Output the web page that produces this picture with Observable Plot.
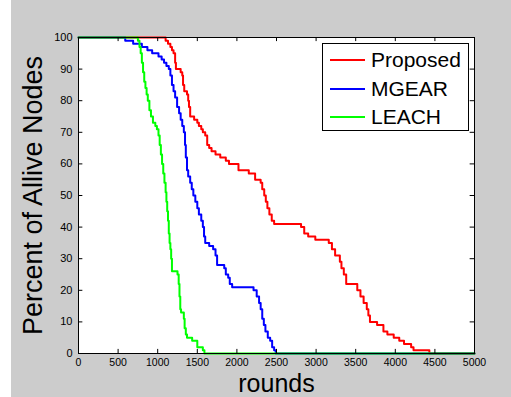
<!DOCTYPE html>
<html>
<head>
<meta charset="utf-8">
<script src="https://cdn.jsdelivr.net/npm/d3@7"></script>
<script src="https://cdn.jsdelivr.net/npm/@observablehq/plot@0.6"></script>
<style>
  html, body { margin: 0; padding: 0; background: #fff; }
  #wrap { position: relative; width: 511px; height: 397px; overflow: hidden;
    background: linear-gradient(to right, #fff 0 11px, #cccccc 11px); font-family: "Liberation Sans", Arial, sans-serif; }
  #wrap svg { position: absolute; left: 0; top: 0; background: transparent; }
  #legend { position: absolute; left: 322px; top: 43px; width: 147px; height: 88px; background: #fff;
    border: 1px solid #000; box-sizing: border-box; }
  .row { position: absolute; left: 7px; height: 24px; display: flex; align-items: center; font-size: 21px; color: #000; }
  .row span.sw { display: inline-block; width: 35px; height: 0; border-top: 2px solid; margin-right: 6px; }
</style>
</head>
<body>
<div id="wrap"></div>
<script>
const seriesNames = ["Proposed", "MGEAR", "LEACH"];
const seriesColors = ["#ff0000", "#0000ff", "#00ff00"];

const propRounds = [0,1100,1130,1160,1180,1200,1220,1230,1290,1310,1320,1335,1370,1385,1395,1410,1460,1500,1520,1550,1570,1600,1625,1650,1680,1730,1790,1860,1900,2020,2150,2230,2300,2320,2345,2365,2385,2410,2440,2470,2810,2850,2900,2990,3160,3200,3240,3300,3320,3350,3380,3520,3560,3600,3640,3660,3680,3770,3850,3900,3980,4050,4110,4200,4230,4430,5000];
const propPct    = [100,99,98,97,96,95,92,90,89,88,85,83,82,80,78,75,74,73,72,71,70,69,66,65,64,63,62,61,60,58,57,55,54,52,50,48,46,44,42,41,40,38,37,36,35,33,31,29,27,25,22,20,18,16,14,12,10,9,7,6,5,4,3,2,1,0,0];

const mgearRounds = [0,590,690,800,870,930,1010,1050,1080,1110,1140,1160,1180,1200,1220,1245,1270,1290,1310,1330,1345,1355,1370,1385,1410,1430,1450,1475,1500,1520,1550,1570,1585,1600,1650,1700,1730,1750,1840,1860,1890,1910,1940,2210,2250,2280,2300,2320,2340,2360,2390,2420,2445,2470,2490,5000];
const mgearPct    = [100,99,98,97,96,95,94,93,92,91,90,88,85,83,81,78,76,74,72,70,66,62,58,56,54,52,50,48,46,44,42,40,37,35,34,33,31,28,27,25,24,22,21,20,18,16,14,11,9,7,5,4,2,1,0,0];

const leachRounds = [0,750,770,785,800,815,830,845,860,875,895,915,940,970,990,1010,1025,1040,1055,1070,1085,1100,1110,1120,1130,1140,1150,1160,1170,1180,1250,1265,1275,1285,1295,1330,1340,1355,1370,1435,1500,1570,1590,5000];
const leachPct    = [100,99,97,95,92,89,86,84,82,80,77,75,73,72,71,69,66,63,60,57,54,51,48,45,42,38,35,33,30,26,25,22,18,14,13,11,8,6,5,4,2,1,0,0];

const xTicks = [0,500,1000,1500,2000,2500,3000,3500,4000,4500,5000];
const yTicks = [0,10,20,30,40,50,60,70,80,90,100];
const xLabel = "rounds";
const yLabel = "Percent of Allive Nodes";

const rows = [];
[[propRounds, propPct], [mgearRounds, mgearPct], [leachRounds, leachPct]].forEach(([r, p], k) => {
  r.forEach((v, i) => rows.push({series: seriesNames[k], round: v, pct: p[i]}));
});

const font = "Liberation Sans, Arial, sans-serif";
const chart = Plot.plot({
  width: 511, height: 397,
  marginLeft: 78, marginRight: 37, marginTop: 37, marginBottom: 44,
  style: {fontFamily: font, background: "transparent", color: "#000"},
  x: {domain: [0, 5000]},
  y: {domain: [0, 100]},
  color: {domain: seriesNames, range: seriesColors},
  marks: [
    Plot.frame({fill: "white", stroke: "none"}),
    ...seriesNames.map(s => Plot.line(rows.filter(d => d.series === s), {x: "round", y: "pct", stroke: "series", strokeWidth: 2, curve: "step-after"})),
    Plot.ruleX(xTicks, {y1: 0, y2: 1.3, stroke: "#000"}),
    Plot.ruleX(xTicks, {y1: 98.7, y2: 100, stroke: "#000"}),
    Plot.ruleY(yTicks, {x1: 0, x2: 55, stroke: "#000"}),
    Plot.ruleY(yTicks, {x1: 4945, x2: 5000, stroke: "#000"}),
    Plot.frame({stroke: "#000", strokeWidth: 1}),
    Plot.axisX(xTicks, {tickSize: 0, tickPadding: 5, fontSize: 10.5, label: null, tickFormat: d => String(d)}),
    Plot.axisY(yTicks, {tickSize: 0, tickPadding: 6, fontSize: 11, label: null, tickFormat: d => String(d)}),
    Plot.text([xLabel], {frameAnchor: "bottom", dy: 38, lineAnchor: "bottom", textAnchor: "middle", fontSize: 25, fill: "#000"}),
    Plot.text([yLabel], {frameAnchor: "left", dx: -45, rotate: -90, lineAnchor: "middle", textAnchor: "middle", fontSize: 27, fill: "#000"})
  ]
});
const wrap = document.getElementById("wrap");
wrap.appendChild(chart);

const legend = document.createElement("div");
legend.id = "legend";
seriesNames.forEach((s, i) => {
  const row = document.createElement("div");
  row.className = "row";
  row.style.top = (4 + i * 28.5) + "px";
  const sw = document.createElement("span");
  sw.className = "sw";
  sw.style.borderTopColor = seriesColors[i];
  row.appendChild(sw);
  const t = document.createElement("span");
  t.textContent = s;
  row.appendChild(t);
  legend.appendChild(row);
});
wrap.appendChild(legend);
</script>
</body>
</html>
